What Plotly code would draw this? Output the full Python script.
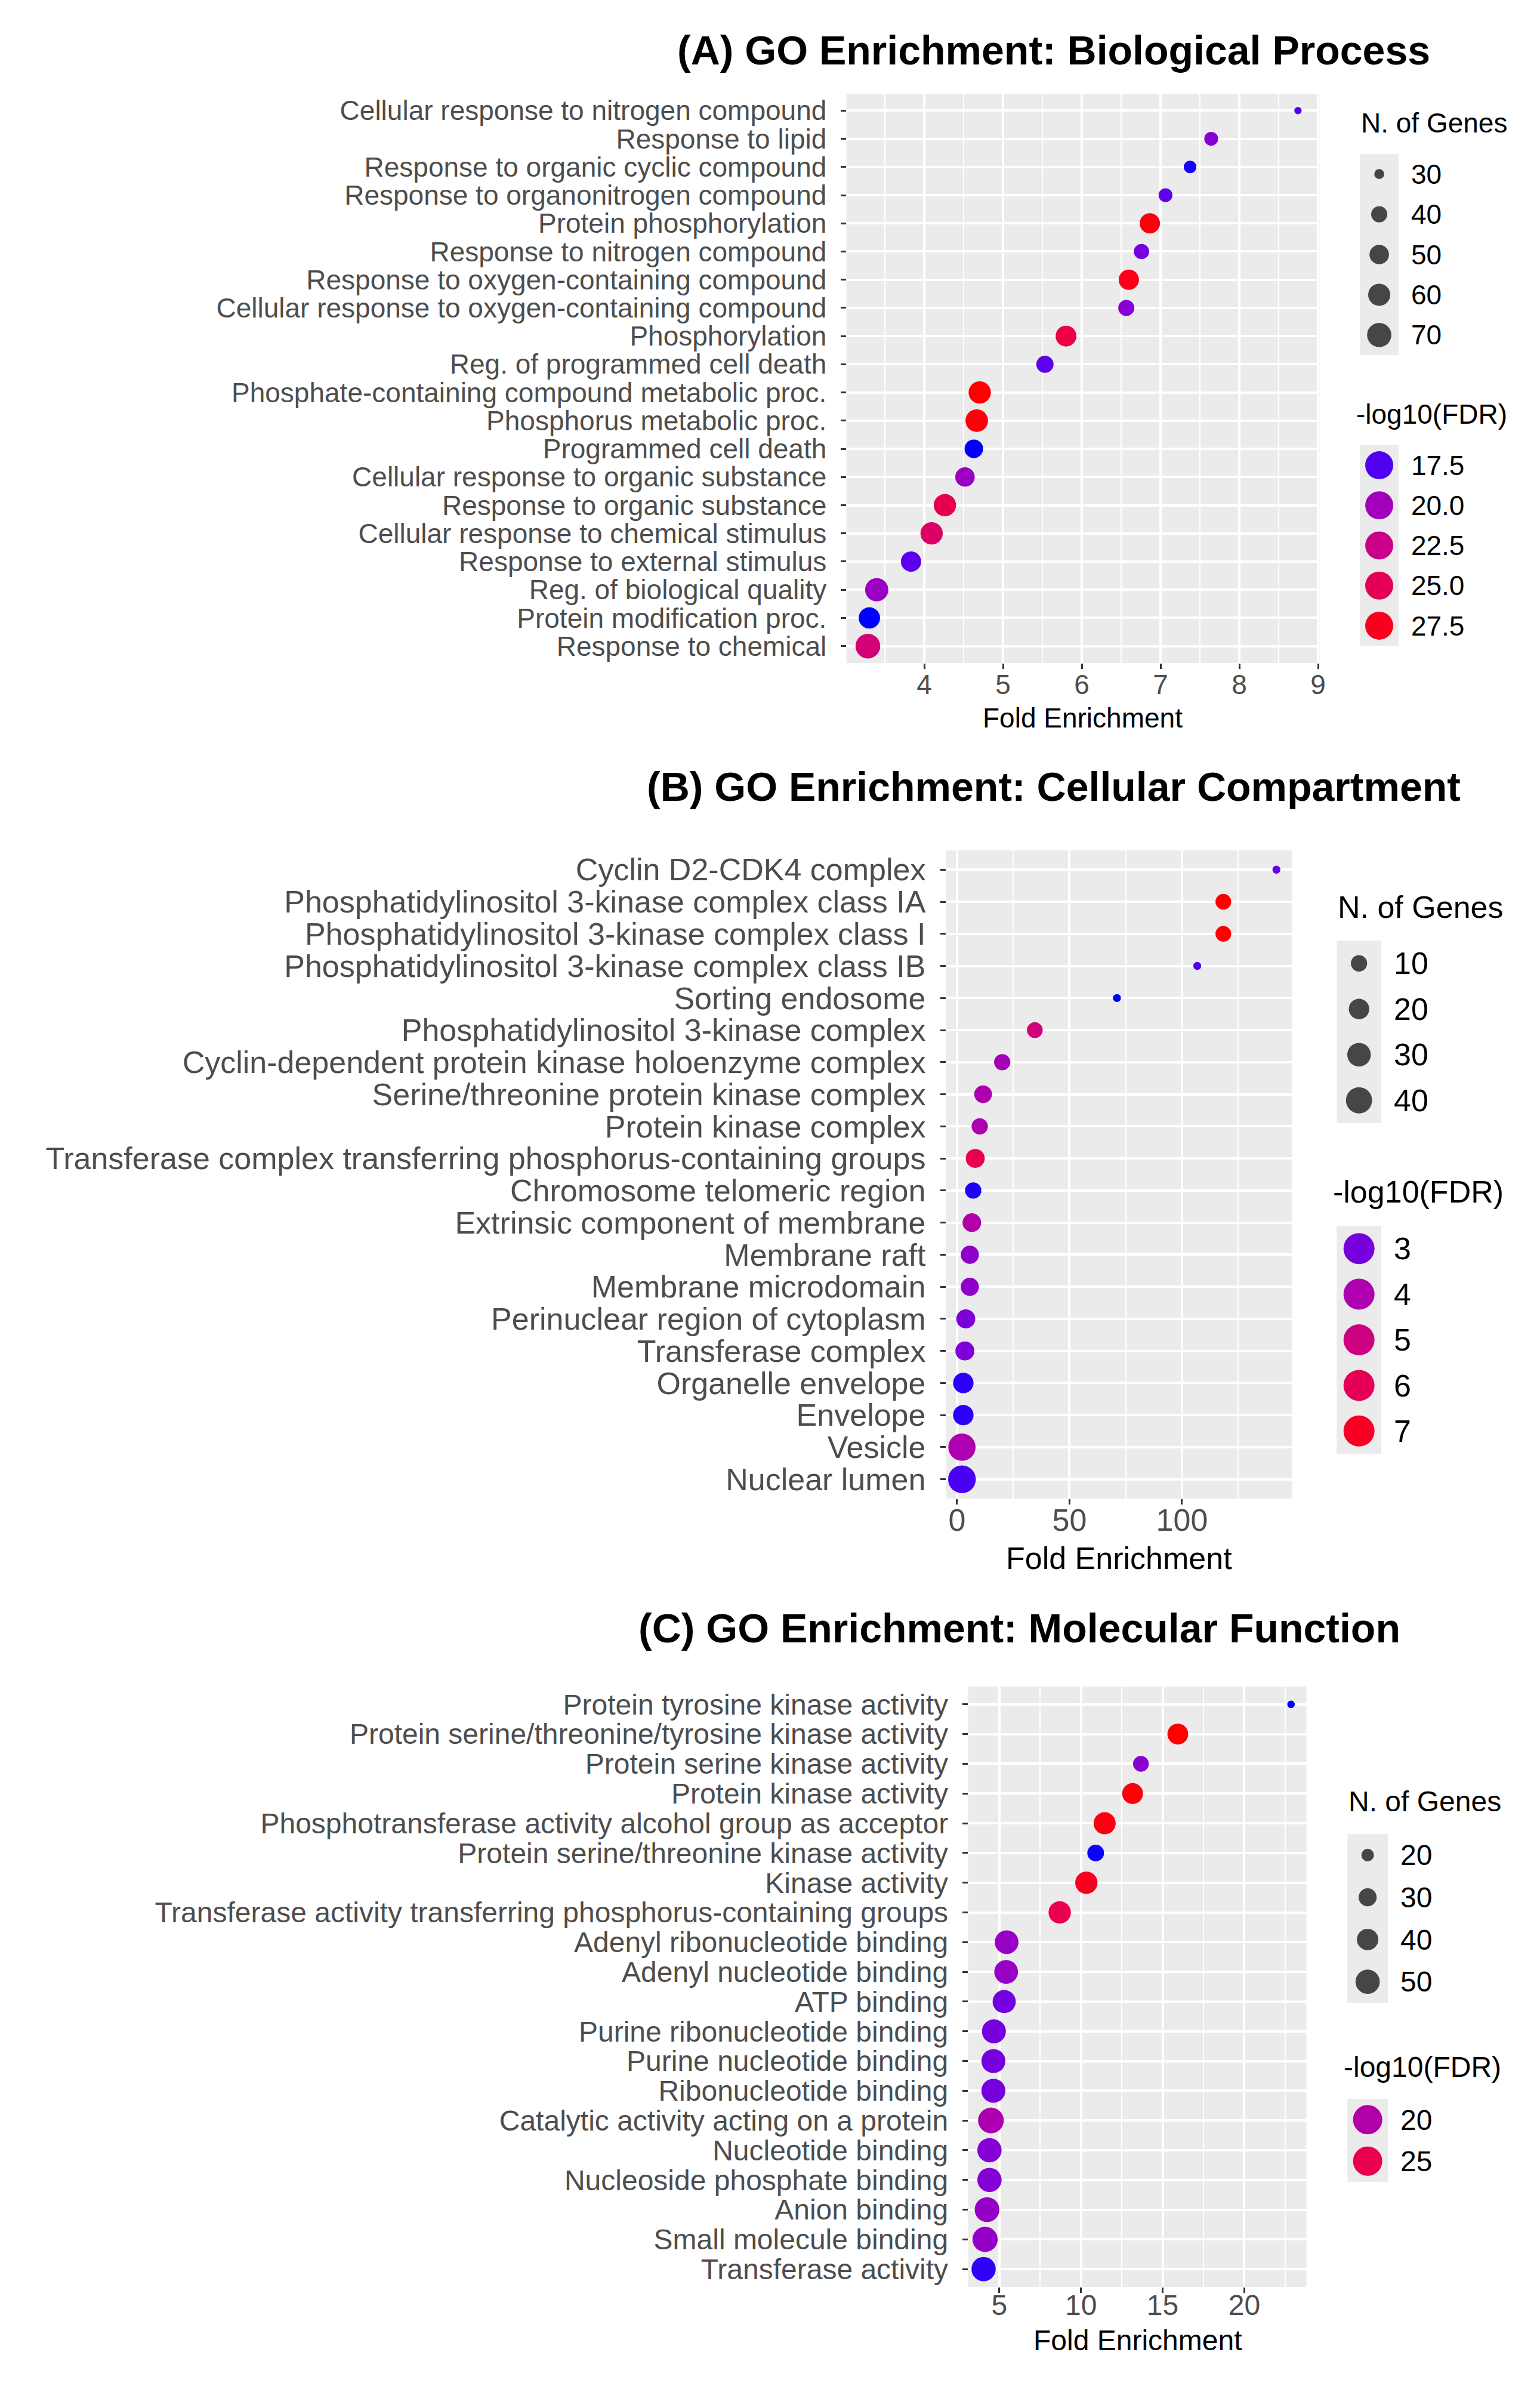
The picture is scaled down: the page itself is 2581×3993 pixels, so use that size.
import math
import plotly.graph_objects as go

# ---- (A) Biological Process ----
bp_terms = [
    "Cellular response to nitrogen compound", "Response to lipid",
    "Response to organic cyclic compound", "Response to organonitrogen compound",
    "Protein phosphorylation", "Response to nitrogen compound",
    "Response to oxygen-containing compound", "Cellular response to oxygen-containing compound",
    "Phosphorylation", "Reg. of programmed cell death",
    "Phosphate-containing compound metabolic proc.", "Phosphorus metabolic proc.",
    "Programmed cell death", "Cellular response to organic substance",
    "Response to organic substance", "Cellular response to chemical stimulus",
    "Response to external stimulus", "Reg. of biological quality",
    "Protein modification proc.", "Response to chemical",
]
bp_fold = [8.745, 7.643, 7.375, 7.063, 6.864, 6.758, 6.597, 6.565, 5.80, 5.532,
           4.704, 4.666, 4.629, 4.517, 4.262, 4.093, 3.832, 3.396, 3.303, 3.284]
bp_genes = [29, 35, 33, 35, 53, 38, 53, 40, 55, 43, 61, 62, 47, 50, 61, 61, 53, 65, 57, 72]
bp_fdr = [17.5, 18.9, 17.0, 17.8, 27.9, 18.3, 27.7, 18.9, 25.9, 17.8,
          28.2, 28.0, 16.8, 19.7, 25.4, 24.2, 17.7, 19.7, 16.8, 23.4]
bp_size_breaks = [30, 40, 50, 60, 70]
bp_color_breaks = [17.5, 20.0, 22.5, 25.0, 27.5]
bp_color_labels = ["17.5", "20.0", "22.5", "25.0", "27.5"]

# ---- (B) Cellular Compartment ----
cc_terms = [
    "Cyclin D2-CDK4 complex", "Phosphatidylinositol 3-kinase complex class IA",
    "Phosphatidylinositol 3-kinase complex class I", "Phosphatidylinositol 3-kinase complex class IB",
    "Sorting endosome", "Phosphatidylinositol 3-kinase complex",
    "Cyclin-dependent protein kinase holoenzyme complex", "Serine/threonine protein kinase complex",
    "Protein kinase complex", "Transferase complex transferring phosphorus-containing groups",
    "Chromosome telomeric region", "Extrinsic component of membrane",
    "Membrane raft", "Membrane microdomain", "Perinuclear region of cytoplasm",
    "Transferase complex", "Organelle envelope", "Envelope", "Vesicle", "Nuclear lumen",
]
cc_fold = [142.0, 118.4, 118.4, 106.8, 71.1, 34.6, 20.1, 11.6, 10.1, 8.1,
           7.2, 6.6, 5.7, 5.7, 3.9, 3.5, 2.8, 2.8, 2.2, 2.2]
cc_genes = [2, 9, 9, 2, 2, 9, 10, 13, 10, 16, 10, 15, 14, 14, 16, 16, 20, 20, 45, 47]
cc_fdr = [2.8, 7.4, 7.4, 2.6, 2.3, 5.1, 3.8, 4.0, 4.0, 6.1,
          2.4, 4.1, 3.4, 3.4, 3.1, 3.1, 2.45, 2.45, 4.0, 2.55]
cc_size_breaks = [10, 20, 30, 40]
cc_color_breaks = [3, 4, 5, 6, 7]
cc_color_labels = ["3", "4", "5", "6", "7"]

# ---- (C) Molecular Function ----
mf_terms = [
    "Protein tyrosine kinase activity", "Protein serine/threonine/tyrosine kinase activity",
    "Protein serine kinase activity", "Protein kinase activity",
    "Phosphotransferase activity alcohol group as acceptor", "Protein serine/threonine kinase activity",
    "Kinase activity", "Transferase activity transferring phosphorus-containing groups",
    "Adenyl ribonucleotide binding", "Adenyl nucleotide binding", "ATP binding",
    "Purine ribonucleotide binding", "Purine nucleotide binding", "Ribonucleotide binding",
    "Catalytic activity acting on a protein", "Nucleotide binding",
    "Nucleoside phosphate binding", "Anion binding", "Small molecule binding",
    "Transferase activity",
]
mf_fold = [22.86, 15.93, 13.67, 13.16, 11.45, 10.90, 10.33, 8.70, 5.45, 5.42,
           5.30, 4.67, 4.64, 4.64, 4.49, 4.40, 4.40, 4.25, 4.13, 4.04]
mf_genes = [17, 38, 25, 38, 42, 27, 43, 43, 48, 48, 46, 49, 49, 49, 56, 50, 50, 52, 54, 50]
mf_fdr = [15.5, 28.0, 17.8, 27.8, 27.6, 15.6, 27.1, 25.1, 18.5, 18.5,
          17.1, 17.2, 17.2, 17.2, 19.6, 17.7, 17.7, 18.4, 18.4, 15.9]
mf_size_breaks = [20, 30, 40, 50]
mf_color_breaks = [20, 25]
mf_color_labels = ["20", "25"]

W, H = 2581, 3993
FONT = "Liberation Sans, Arial, Helvetica, sans-serif"


def dom_x(a, b):
    return [a / W, b / W]


def dom_y(top, bottom):
    return [1 - bottom / H, 1 - top / H]


# ggplot-like blue -> red gradient, interpolated in CIELAB
def _lin(c):
    c = c / 255
    return c / 12.92 if c <= 0.04045 else ((c + 0.055) / 1.055) ** 2.4


def _gam(c):
    c = 12.92 * c if c <= 0.0031308 else 1.055 * c ** (1 / 2.4) - 0.055
    return min(max(c, 0.0), 1.0)


def hex_to_lab(h):
    r, g, b = (_lin(int(h[i:i + 2], 16)) for i in (1, 3, 5))
    x = (0.4124564 * r + 0.3575761 * g + 0.1804375 * b) / 0.95047
    y = 0.2126729 * r + 0.7151522 * g + 0.0721750 * b
    z = (0.0193339 * r + 0.1191920 * g + 0.9503041 * b) / 1.08883
    f = lambda t: t ** (1 / 3) if t > (6 / 29) ** 3 else t / (3 * (6 / 29) ** 2) + 4 / 29
    fx, fy, fz = f(x), f(y), f(z)
    return 116 * fy - 16, 500 * (fx - fy), 200 * (fy - fz)


def lab_to_hex(L, a, b):
    fy = (L + 16) / 116
    fx, fz = fy + a / 500, fy - b / 200
    finv = lambda t: t ** 3 if t > 6 / 29 else 3 * (6 / 29) ** 2 * (t - 4 / 29)
    x, y, z = finv(fx) * 0.95047, finv(fy), finv(fz) * 1.08883
    r = 3.2404542 * x - 1.5371385 * y - 0.4985314 * z
    g = -0.9692660 * x + 1.8760108 * y + 0.0415560 * z
    bl = 0.0556434 * x - 0.2040259 * y + 1.0572252 * z
    return "#%02X%02X%02X" % tuple(round(_gam(c) * 255) for c in (r, g, bl))


def gradient_scale(low="#0000FF", high="#FF0000", n=21):
    lo, hi = hex_to_lab(low), hex_to_lab(high)
    out = []
    for i in range(n):
        t = i / (n - 1)
        out.append([t, lab_to_hex(*[lo[j] + (hi[j] - lo[j]) * t for j in range(3)])])
    return out


SCALE = gradient_scale()


def diameter(v, vmin, vmax, k):
    s = 1 + 5 * math.sqrt(max(v - vmin, 0) / (vmax - vmin))
    return k * (s * 2.845 + 0.945) + 4.5


panels = [
    dict(terms=bp_terms, fold=bp_fold, genes=bp_genes, fdr=bp_fdr,
         size_breaks=bp_size_breaks, color_breaks=bp_color_breaks, color_labels=bp_color_labels,
         title="(A) GO Enrichment: Biological Process", font=46, k=2.05,
         px=(1416, 2212), py=(149, 1103), dtick=1, minor=0.5, xstand=-13,
         title_right=2400, title_y=76, xtitle_y=1195,
         key_x=(2280, 2345), size_box=(250, 587), color_box=(738, 1074),
         size_title=(2280, 198), color_title=(2272, 686), ckey=47),
    dict(terms=cc_terms, fold=cc_fold, genes=cc_genes, fdr=cc_fdr,
         size_breaks=cc_size_breaks, color_breaks=cc_color_breaks, color_labels=cc_color_labels,
         title="(B) GO Enrichment: Cellular Compartment", font=52, k=2.33,
         px=(1584, 2166), py=(1417, 2503), dtick=50, minor=25, xstand=-18,
         title_right=2452, title_y=1310, xtitle_y=2603,
         key_x=(2241, 2316), size_box=(1568, 1874), color_box=(2046, 2428),
         size_title=(2241, 1512), color_title=(2233, 1989), ckey=52),
    dict(terms=mf_terms, fold=mf_fold, genes=mf_genes, fdr=mf_fdr,
         size_breaks=mf_size_breaks, color_breaks=mf_color_breaks, color_labels=mf_color_labels,
         title="(C) GO Enrichment: Molecular Function", font=48, k=2.14,
         px=(1621, 2190), py=(2818, 3824), dtick=5, minor=2.5, xstand=-21,
         title_right=2350, title_y=2720, xtitle_y=3913,
         key_x=(2259, 2327), size_box=(3065, 3348), color_box=(3509, 3648),
         size_title=(2259, 3010), color_title=(2251, 3455), ckey=49),
]

fig = go.Figure()
layout = {}
annotations = []

for i, p in enumerate(panels):
    n_main, n_size, n_col = 3 * i + 1, 3 * i + 2, 3 * i + 3
    sfx = lambda n: "" if n == 1 else str(n)
    vmin, vmax = min(p["genes"]), max(p["genes"])
    cmin, cmax = min(p["fdr"]), max(p["fdr"])
    f = p["font"]

    # main dot plot
    fig.add_trace(go.Scatter(
        x=p["fold"], y=p["terms"], mode="markers", showlegend=False,
        xaxis="x" + sfx(n_main), yaxis="y" + sfx(n_main),
        marker=dict(size=[diameter(g, vmin, vmax, p["k"]) for g in p["genes"]],
                    color=p["fdr"], colorscale=SCALE, cmin=cmin, cmax=cmax,
                    line=dict(width=0), opacity=1),
    ))
    lo, hi = min(p["fold"]), max(p["fold"])
    pad = (hi - lo) * 0.05
    n = len(p["terms"])
    layout["xaxis" + sfx(n_main)] = dict(
        domain=dom_x(*p["px"]), anchor="y" + sfx(n_main), range=[lo - pad, hi + pad],
        tick0=0, dtick=p["dtick"], showgrid=True, gridcolor="white", gridwidth=3.5,
        minor=dict(dtick=p["minor"], tick0=0, showgrid=True, gridcolor="white", gridwidth=1.6),
        ticks="outside", ticklen=9, tickwidth=3, tickcolor="#333333",
        tickfont=dict(family=FONT, size=f, color="#4D4D4D"), ticklabelstandoff=p["xstand"],
        zeroline=False, showline=False, fixedrange=True,
    )
    layout["yaxis" + sfx(n_main)] = dict(
        domain=dom_y(*p["py"]), anchor="x" + sfx(n_main), type="category",
        categoryorder="array", categoryarray=p["terms"], range=[n - 0.4, -0.6],
        tickmode="array", tickvals=p["terms"], ticktext=p["terms"],
        showgrid=True, gridcolor="white", gridwidth=3.5,
        ticks="outside", ticklen=9, tickwidth=3, tickcolor="#333333",
        tickfont=dict(family=FONT, size=f, color="#4D4D4D"), ticklabelstandoff=14,
        zeroline=False, showline=False, fixedrange=True,
    )

    # size legend keys
    size_labels = [str(b) for b in p["size_breaks"]]
    fig.add_trace(go.Scatter(
        x=[0] * len(size_labels), y=size_labels, mode="markers", showlegend=False,
        xaxis="x" + sfx(n_size), yaxis="y" + sfx(n_size),
        marker=dict(size=[diameter(b, vmin, vmax, p["k"]) for b in p["size_breaks"]],
                    color="black", line=dict(width=0)),
    ))
    # colour legend keys
    fig.add_trace(go.Scatter(
        x=[0] * len(p["color_breaks"]), y=p["color_labels"], mode="markers", showlegend=False,
        xaxis="x" + sfx(n_col), yaxis="y" + sfx(n_col),
        marker=dict(size=p["ckey"], color=p["color_breaks"], colorscale=SCALE,
                    cmin=cmin, cmax=cmax, line=dict(width=0)),
    ))
    for nn, labels, box in ((n_size, size_labels, p["size_box"]),
                            (n_col, p["color_labels"], p["color_box"])):
        layout["xaxis" + sfx(nn)] = dict(
            domain=dom_x(*p["key_x"]), anchor="y" + sfx(nn), range=[-1, 1],
            visible=False, fixedrange=True,
        )
        layout["yaxis" + sfx(nn)] = dict(
            domain=dom_y(*box), anchor="x" + sfx(nn), side="right", type="category",
            categoryorder="array", categoryarray=labels,
            tickmode="array", tickvals=labels, ticktext=labels,
            range=[len(labels) - 0.5, -0.5], showgrid=False, zeroline=False,
            showline=False, ticks="", ticklabelstandoff=20,
            tickfont=dict(family=FONT, size=f, color="black"), fixedrange=True,
        )

    # titles
    annotations.append(dict(
        text="<b>%s</b>" % p["title"], xref="paper", yref="paper",
        x=p["title_right"] / W, y=1 - p["title_y"] / H, xanchor="right", yanchor="middle",
        showarrow=False, font=dict(family=FONT, size=68, color="black"),
    ))
    annotations.append(dict(
        text="Fold Enrichment", xref="paper", yref="paper",
        x=(p["px"][0] + p["px"][1]) / 2 / W, y=1 - p["xtitle_y"] / H,
        xanchor="center", yanchor="middle", showarrow=False,
        font=dict(family=FONT, size=f, color="black"),
    ))
    for txt, (lx, ly) in (("N. of Genes", p["size_title"]), ("-log10(FDR)", p["color_title"])):
        annotations.append(dict(
            text=txt, xref="paper", yref="paper", x=lx / W, y=1 - ly / H,
            xanchor="left", yanchor="middle", showarrow=False,
            font=dict(family=FONT, size=f, color="black"),
        ))

fig.update_layout(
    width=W, height=H, margin=dict(l=0, r=0, t=0, b=0),
    paper_bgcolor="white", plot_bgcolor="#EBEBEB",
    font=dict(family=FONT), annotations=annotations, showlegend=False,
    **layout,
)

fig.write_html("out.html")
